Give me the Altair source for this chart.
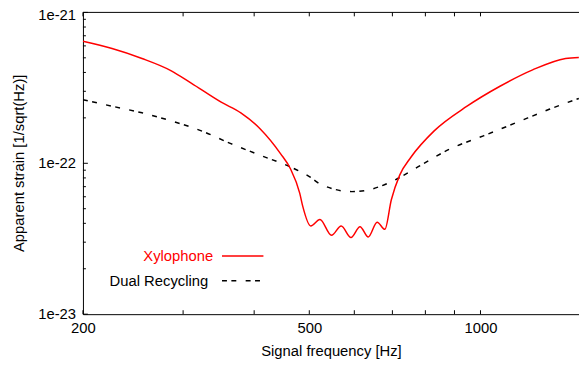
import altair as alt
import pandas as pd

# ---- data ----
xylo_freq = [200, 225, 254, 286, 310, 350, 379, 410, 445, 463, 481, 487, 503, 522,
             547, 569, 592, 614, 635, 658, 679, 697, 721, 755, 829, 947, 1082, 1235,
             1411, 1489]
xylo_strain = [6.43e-22, 5.76e-22, 4.95e-22, 4.10e-22, 3.40e-22, 2.54e-22, 2.16e-22,
               1.69e-22, 1.16e-22, 9.23e-23, 6.34e-23, 5.18e-23, 3.84e-23, 4.24e-23,
               3.33e-23, 3.84e-23, 3.22e-23, 3.80e-23, 3.25e-23, 4.07e-23, 3.65e-23,
               5.73e-23, 8.35e-23, 1.10e-22, 1.64e-22, 2.39e-22, 3.24e-22, 4.16e-22,
               4.95e-22, 5.03e-22]

dual_freq = [200, 225, 254, 286, 323, 364, 410, 463, 501, 520, 594, 635, 697, 776,
             886, 1012, 1156, 1321, 1489]
dual_strain = [2.64e-22, 2.39e-22, 2.16e-22, 1.91e-22, 1.64e-22, 1.35e-22, 1.13e-22,
               9.46e-23, 8.14e-23, 7.37e-23, 6.49e-23, 6.66e-23, 7.55e-23, 9.46e-23,
               1.25e-22, 1.52e-22, 1.86e-22, 2.28e-22, 2.69e-22]

x_labels = [200, 500, 1000]
x_ticks = [200, 300, 400, 500, 600, 700, 800, 900, 1000]
y_major = [1e-23, 1e-22, 1e-21]
y_major_text = ["1e-23", "1e-22", "1e-21"]
y_minor = [k * 1e-23 for k in range(2, 10)] + [k * 1e-22 for k in range(2, 10)]

series_names = ["Xylophone", "Dual Recycling"]
series_colors = ["#ff0000", "#000000"]
x_title = "Signal frequency [Hz]"
y_title = "Apparent strain [1/sqrt(Hz)]"

# ---- layout ----
W, H = 503, 306
FONT = "Liberation Sans"

xscale = alt.Scale(type="log", domain=[200, 1490], nice=False)
yscale = alt.Scale(type="log", domain=[1e-23, 1e-21], nice=False)

xaxis = alt.Axis(values=x_labels, ticks=False, grid=False, domainColor="black",
                 labelFont=FONT, labelFontSize=15, labelColor="black", labelPadding=7,
                 labelFlush=False, format="d",
                 title=x_title, titleFont=FONT, titleFontSize=15,
                 titleFontWeight="normal", titleColor="black", titlePadding=8)
yaxis = alt.Axis(values=y_major, ticks=False, grid=False, domainColor="black",
                 labels=False, title=None)


def X():
    return alt.X("f:Q", scale=xscale, axis=xaxis)


def Y():
    return alt.Y("h:Q", scale=yscale, axis=yaxis)


xylo_df = pd.DataFrame({"f": xylo_freq, "h": xylo_strain})
dual_df = pd.DataFrame({"f": dual_freq, "h": dual_strain})

DASH = [5, 4.5, 5, 9.5]

dual_line = alt.Chart(dual_df).mark_line(
    color=series_colors[1], strokeWidth=1.5, strokeDash=DASH,
    interpolate="monotone", clip=True
).encode(x=X(), y=Y())

xylo_line = alt.Chart(xylo_df).mark_line(
    color=series_colors[0], strokeWidth=1.5, interpolate="monotone", clip=True
).encode(x=X(), y=Y())

xt_df = pd.DataFrame({"f": x_ticks})
xticks_bottom = alt.Chart(xt_df).mark_rule(color="black", strokeWidth=1).encode(
    x=X(), y=alt.value(H), y2=alt.value(H - 4))
xticks_top = alt.Chart(xt_df).mark_rule(color="black", strokeWidth=1).encode(
    x=X(), y=alt.value(0), y2=alt.value(4))

ymaj_df = pd.DataFrame({"h": y_major, "t": y_major_text})
ymin_df = pd.DataFrame({"h": y_minor})
yticks_major = alt.Chart(ymaj_df).mark_rule(color="black", strokeWidth=1).encode(
    y=Y(), x=alt.value(0), x2=alt.value(5))
yticks_minor = alt.Chart(ymin_df).mark_rule(color="black", strokeWidth=1).encode(
    y=Y(), x=alt.value(0), x2=alt.value(3))

# y tick labels (top one nudged down so it stays inside the canvas)
ylab_low = alt.Chart(ymaj_df[ymaj_df["h"] < 5e-22]).mark_text(
    align="right", baseline="middle", font=FONT, fontSize=15, color="black"
).encode(y=Y(), x=alt.value(-7), text="t:N")
ylab_top = alt.Chart(ymaj_df[ymaj_df["h"] > 5e-22]).mark_text(
    align="right", baseline="middle", font=FONT, fontSize=15, color="black", dy=3
).encode(y=Y(), x=alt.value(-7), text="t:N")

ytitle = alt.Chart(pd.DataFrame({"t": [y_title]})).mark_text(
    angle=270, align="center", baseline="middle", font=FONT, fontSize=15, color="black"
).encode(text="t:N", x=alt.value(-65), y=alt.value(H / 2))

top_border = alt.Chart(pd.DataFrame({"a": [0]})).mark_rule(
    color="black", strokeWidth=1).encode(
    x=alt.value(0), x2=alt.value(W), y=alt.value(0))

# legend
leg1_text = alt.Chart(pd.DataFrame({"label": [series_names[0]]})).mark_text(
    align="right", baseline="middle", font=FONT, fontSize=15, color=series_colors[0]
).encode(text="label:N", x=alt.value(132), y=alt.value(247))
leg2_text = alt.Chart(pd.DataFrame({"label": [series_names[1]]})).mark_text(
    align="right", baseline="middle", font=FONT, fontSize=15, color=series_colors[1]
).encode(text="label:N", x=alt.value(127), y=alt.value(272))
leg1_line = alt.Chart(pd.DataFrame({"a": [0]})).mark_rule(
    color=series_colors[0], strokeWidth=1.5).encode(
    x=alt.value(141), x2=alt.value(183), y=alt.value(247))
leg2_line = alt.Chart(pd.DataFrame({"a": [0]})).mark_rule(
    color=series_colors[1], strokeWidth=1.5, strokeDash=DASH).encode(
    x=alt.value(141), x2=alt.value(183), y=alt.value(272))

chart = alt.layer(
    dual_line, xylo_line, xticks_bottom, xticks_top, yticks_major, yticks_minor,
    ylab_low, ylab_top, ytitle,
    top_border, leg1_text, leg2_text, leg1_line, leg2_line
).properties(
    width=W, height=H,
    autosize=alt.AutoSizeParams(type="none"),
    padding={"left": 76, "top": 2, "right": 0, "bottom": 44},
    background="white",
).configure_view(stroke=None)

chart.save("out.html", embed_options={"renderer": "svg", "actions": False})
